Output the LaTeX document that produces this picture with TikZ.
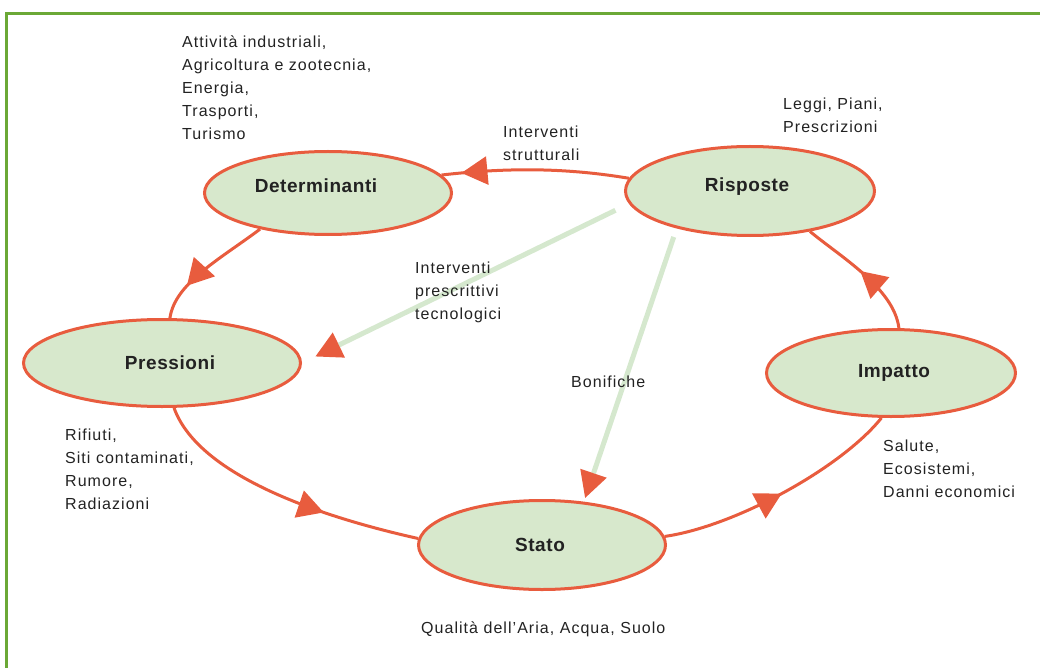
\documentclass[tikz,border=0pt]{standalone}
\usepackage{fontspec}
\setmainfont{Liberation Sans}
\usetikzlibrary{shapes.geometric,arrows.meta,decorations.markings}
\definecolor{orangec}{HTML}{E85C3E}
\definecolor{fillc}{HTML}{D7E8CC}
\definecolor{greenl}{HTML}{D5E8CE}
\definecolor{framec}{HTML}{6BA836}
\definecolor{txt}{HTML}{222222}
\newfontfamily\lblfont{Liberation Sans}[LetterSpace=6.5]
\newfontfamily\boldfont{Liberation Sans}[LetterSpace=3]
\tikzset{
  ell/.style={ellipse, draw=orangec, fill=fillc, line width=3pt, inner sep=0pt},
  lbl/.style={font=\lblfont\fontsize{16}{23}\selectfont, text=txt, align=left, inner sep=0pt, anchor=base west},
  bl/.style={font=\boldfont\bfseries\fontsize{19}{23}\selectfont, text=txt, inner sep=0pt},
  cyc/.style={draw=orangec, line width=3pt, postaction=decorate,
    decoration={markings, mark=at position #1 with {\arrow{Triangle[length=26pt,width=28pt]}}}},
  gl/.style={draw=greenl, line width=5pt, -{Triangle[length=26pt,width=28pt,color=orangec,line width=0pt]}},
}
\begin{document}
\begin{tikzpicture}[x=1pt,y=-1pt]
\useasboundingbox (0,0) rectangle (1040,668);
\draw[framec, line width=3pt] (6.5,690) -- (6.5,13.5) -- (1060,13.5);

\node[ell, minimum width=247pt, minimum height=83pt,
  label={[bl,xshift=-12pt,yshift=7pt]center:Determinanti}] (D) at (328,193) {};
\node[ell, minimum width=249pt, minimum height=89pt,
  label={[bl,xshift=-3pt,yshift=4pt]center:Risposte}] (R) at (750,191) {};
\node[ell, minimum width=277pt, minimum height=87pt,
  label={[bl,xshift=8pt]center:Pressioni}] (P) at (162,363) {};
\node[ell, minimum width=249pt, minimum height=87pt,
  label={[bl,xshift=3pt]center:Impatto}] (I) at (891,373) {};
\node[ell, minimum width=247pt, minimum height=89pt,
  label={[bl,xshift=-2pt]center:Stato}] (S) at (542,545) {};

\draw[cyc=-20pt] (R.174) .. controls +(-60,-10) and +(70,-8) .. (D.9);
\draw[cyc=-37pt] (D.208) .. controls +(-40,30) and +(5,-35) .. (P.80);
\draw[cyc=-98pt] (P.285) .. controls +(25,70) and +(-90,-20) .. (S.177);
\draw[cyc=-126pt] (S.4) .. controls +(70,-10) and +(-40,50) .. (I.258);
\draw[cyc=-64pt] (I.80) .. controls +(-5,-40) and +(30,25) .. (R.-34);

\draw[gl, shorten <=15pt, shorten >=15pt] (R.186) -- (P.east);
\draw[gl, shorten <=9pt, shorten >=4pt] (R.207) -- (S.46);

\node[lbl] (tA) at (182,140) {Attività industriali,\\Agricoltura e zootecnia,\\Energia,\\Trasporti,\\Turismo};
\node[lbl] (tB) at (503,161) {Interventi\\strutturali};
\node[lbl] (tC) at (783,133) {Leggi, Piani,\\Prescrizioni};
\node[lbl] (tE) at (415,319) {Interventi\\prescrittivi\\tecnologici};
\node[lbl] (tF) at (571,387) {Bonifiche};
\node[lbl] (tG) at (65,509) {Rifiuti,\\Siti contaminati,\\Rumore,\\Radiazioni};
\node[lbl] (tH) at (883,497) {Salute,\\Ecosistemi,\\Danni economici};
\node[lbl] (tQ) at (421,633) {Qualità dell’Aria, Acqua, Suolo};
\end{tikzpicture}
\end{document}
